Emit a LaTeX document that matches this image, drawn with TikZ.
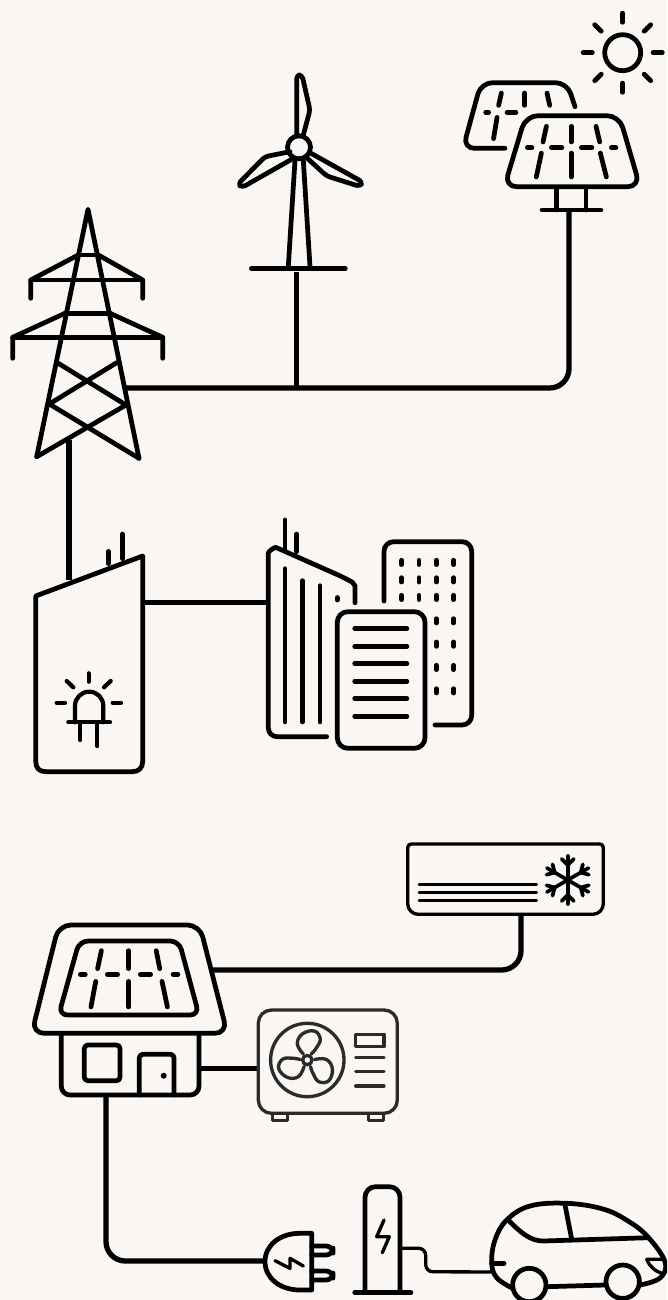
\documentclass[tikz,border=0pt]{standalone}
\definecolor{papercream}{HTML}{F9F6F3}
\definecolor{pumpgrey}{HTML}{2B2B2B}
\tikzset{
  icon/.style={line width=2.7pt,line cap=round,line join=round},
  bit/.style={icon,shorten >=0.8pt,shorten <=0.8pt},
  ledline/.style={line width=2.4pt,line cap=round,line join=round},
  thinicon/.style={line width=1.9pt,line cap=round,line join=round},
  wire/.style={line width=3pt,rounded corners=11pt},
  pumpicon/.style={thinicon,color=pumpgrey}
}
\begin{document}
\begin{tikzpicture}[x=0.02cm,y=-0.02cm]
\clip (0,0) rectangle (667,1300);
\fill[papercream] (0,0) rectangle (667,1300);

\coordinate (pylonright) at (126,388);
\coordinate (pylonfoot) at (69,440);
\coordinate (towerfoot) at (296.7,272);
\coordinate (towerjoin) at (296.7,388);
\coordinate (panelfoot) at (569,210);
\coordinate (plantroof) at (69,580);
\coordinate (plantright) at (143,602.7);
\coordinate (cityleft) at (266,602.7);
\coordinate (roofright) at (213,970);
\coordinate (acfoot) at (521,914);
\coordinate (houseright) at (199,1068.7);
\coordinate (pumpleft) at (258.3,1068.7);
\coordinate (housefoot) at (106,1095);
\coordinate (plugleft) at (265,1261);
\coordinate (chargeright) at (400,1248.3);
\coordinate (carleft) at (491,1272);

\draw[wire] (panelfoot) |- (pylonright);
\draw[wire] (towerfoot) -- (towerjoin);
\draw[wire] (pylonfoot) -- (plantroof);
\draw[wire] (plantright) -- (cityleft);
\draw[wire] (acfoot) |- (roofright);
\draw[wire] (houseright) -- (pumpleft);
\draw[wire] (housefoot) |- (plugleft);
\draw[line width=1.9pt,rounded corners=4pt] (chargeright) -| (425.7,1271.7) -- (carleft);

\draw[icon] (622.7,52.7) circle (18);
\foreach \a in {0,45,...,315}
  \draw[bit,shift={(622.7,52.7)},rotate=\a] (29,0) -- (41,0);

\draw[icon,rounded corners=6.5pt] (575,106.7) -- (567,82.7) -- (481,82.7) -- (463,148.3) -- (505,148.3);
\draw[bit] (501.7,91.7) -- (498.3,106.7);
\draw[bit] (524.7,91.7) -- (524.7,106.7);
\draw[bit] (546.7,91.7) -- (550,106.7);
\draw[bit] (484.3,112.3) -- (490,112.3);
\draw[bit] (505.7,112.3) -- (517.3,112.3);
\draw[bit] (497.3,116) -- (493.3,140);

\draw[icon,rounded corners=7pt] (525.7,115.7) -- (619.3,115.7) -- (640,186.7) -- (504.3,186.7) -- cycle;
\draw[bit] (546.7,125) -- (542.7,143.3);
\draw[bit] (571.3,125) -- (571.3,143.3);
\draw[bit] (595.7,125) -- (600,143.3);
\draw[bit] (526,147.7) -- (533.3,147.7);
\draw[bit] (550,147.7) -- (563.3,147.7);
\draw[bit] (580,147.7) -- (593.3,147.7);
\draw[bit] (610,147.7) -- (617.3,147.7);
\draw[bit] (541.7,151.7) -- (536,178.3);
\draw[bit] (571.3,151.7) -- (571.3,178.3);
\draw[bit] (600,151.7) -- (606.7,178.3);
\draw[icon] (556.7,188) -- (556.7,210);
\draw[icon] (586,188) -- (586,210);
\draw[bit] (540.7,210) -- (602.3,210);

\draw[icon] (36.7,456.7) -- (88,209.3) -- (139,458.3);
\draw[icon] (78.3,255) -- (98.3,255);
\draw[icon] (30.7,298.3) -- (30.7,280) -- (78.3,255);
\draw[icon] (142.7,298.3) -- (142.7,280) -- (98.3,255);
\draw[icon] (30.7,280) -- (142.7,280);
\draw[icon] (65,313.3) -- (110,313.3);
\draw[icon] (12.7,358.3) -- (12.7,337.3) -- (65,313.3);
\draw[icon] (162.7,358.3) -- (162.7,337.3) -- (110,313.3);
\draw[icon] (12.7,337.3) -- (162.7,337.3);
\draw[icon] (58.3,363.3) -- (126,405) -- (36.7,456.7);
\draw[icon] (116.7,362.7) -- (49.3,404) -- (139,458.3);

\draw[icon] (299,147.3) circle (11.5);
\draw[icon,rounded corners=2pt] (296.7,135) -- (296.7,75) -- (302,75) -- (310,110) -- (303.3,135);
\draw[icon,rounded corners=2pt] (290,151.7) -- (265,156.7) -- (238,184) -- (242,187.5) -- (291.7,159.3);
\draw[icon,rounded corners=2pt] (311,153.3) -- (362.5,182) -- (360,186.5) -- (326.7,176) -- (307.3,158.3);
\draw[icon] (295,160) -- (288.3,266.7);
\draw[icon] (303.3,160) -- (310,266.7);
\draw[bit] (250,268.7) -- (346.7,268.7);

\draw[icon] (35.7,596) -- (142.7,556) -- (142.7,761) .. controls (142.7,768) and (139,771.7) .. (132,771.7) -- (46,771.7) .. controls (39,771.7) and (35.7,768) .. (35.7,761) -- cycle;
\draw[bit] (108.3,550) -- (108.3,565);
\draw[bit] (122.3,532.7) -- (122.3,560);
\draw[ledline,rounded corners=8pt] (75,722.3) -- (75,691.7) -- (103.3,691.7) -- (103.3,722.3);
\draw[ledline] (68.3,722.3) -- (110,722.3);
\draw[ledline] (80.3,723) -- (80.3,740);
\draw[ledline] (97.3,723) -- (97.3,746);
\draw[ledline] (88.7,673.3) -- (88.7,681.7);
\draw[ledline] (66.7,681) -- (73.3,687.3);
\draw[ledline] (110.7,681) -- (104,687.3);
\draw[ledline] (56.7,702.7) -- (65,702.7);
\draw[ledline] (112.7,702.7) -- (121,702.7);

\draw[icon,rounded corners=5pt] (326.7,736.7) -- (268.3,736.7) -- (268.3,562) .. controls (268.3,551) and (275,547) .. (284,551) -- (345,578) .. controls (352,582) and (355,586) .. (355,594) -- (355,601.7);
\draw[icon] (285,520) -- (285,550);
\draw[bit] (296.7,532.7) -- (296.7,553);
\draw[bit] (285,567.3) -- (285,723.3);
\draw[bit] (302.3,579.3) -- (302.3,723.3);
\draw[bit] (320,584.3) -- (320,723.3);
\draw[icon] (337.3,597.5) -- (337.3,600);
\draw[icon,rounded corners=5.5pt] (384,601) -- (384,541.7) -- (471.7,541.7) -- (471.7,725) -- (435,725);
\foreach \px in {401.7,419,436.3,453.7}
  \foreach \py in {558.3,575.7,593.3}
    \draw[icon] (\px,\py+2) -- (\px,\py+6.3);
\foreach \px in {436.3,453.7}
  \foreach \py in {616.7,640,663.3,686.7}
    \draw[icon] (\px,\py+2) -- (\px,\py+6.3);
\draw[icon,rounded corners=6pt] (337.3,611.7) rectangle (425,748.3);
\foreach \py in {628.7,646.3,663.7,681.3,698.7,716.3}
  \draw[bit] (353.3,\py) -- (408.3,\py);

\draw[icon,rounded corners=7pt] (58.7,925) -- (199.7,925) -- (227.3,1033.3) -- (31.7,1033.3) -- cycle;
\draw[icon,rounded corners=5pt] (79.3,941) -- (179,941) -- (199,1015) -- (58.7,1015) -- cycle;
\draw[bit] (101.7,949.3) -- (97.3,970);
\draw[bit] (128.7,949.3) -- (128.7,970);
\draw[bit] (156,949.3) -- (160,970);
\draw[bit] (79,974.3) -- (86.7,974.3);
\draw[bit] (106,974.3) -- (119,974.3);
\draw[bit] (139,974.3) -- (152,974.3);
\draw[bit] (171.7,974.3) -- (179.3,974.3);
\draw[bit] (96,980) -- (90.7,1008.3);
\draw[bit] (128.7,980) -- (128.7,1008.3);
\draw[bit] (161.7,980) -- (167.7,1008.3);
\draw[icon,rounded corners=5pt] (61.3,1033.3) -- (61.3,1095) -- (199,1095) -- (199,1033.3);
\draw[icon,rounded corners=2pt] (84.3,1045) rectangle (120,1080.7);
\draw[icon,rounded corners=2pt] (139.3,1095) -- (139.3,1054.3) -- (174,1054.3) -- (174,1095);
\fill (163.7,1075.7) circle (3);

\draw[thinicon] (407.7,844) [rounded corners=2pt] -- (603.3,844) [rounded corners=6pt] -- (603.3,914.3) -- (407.7,914.3) [rounded corners=2pt] -- cycle;
\foreach \py in {884,892.3,900.3}
  \draw[thinicon,line width=1.7pt] (419,\py) -- (536.7,\py);
\foreach \a in {0,60,...,300} {
  \draw[thinicon,line width=2.1pt,shift={(567.7,880)},rotate=\a] (0,0) -- (0,-24);
  \draw[thinicon,line width=2.1pt,shift={(567.7,880)},rotate=\a] (-6,-21) -- (0,-15) -- (6,-21);
}

\draw[pumpicon,rounded corners=7.5pt] (258.3,1010) rectangle (397.3,1113.3);
\draw[pumpicon] (272.3,1113.3) rectangle (287.7,1120.7);
\draw[pumpicon] (368.3,1113.3) rectangle (383.3,1120.7);
\draw[pumpicon] (307.3,1060) circle (36.7);
\draw[pumpicon] (307.3,1060) circle (4.7);
\foreach \a in {0,-120,-240}
  \draw[pumpicon,shift={(307.3,1060)},rotate=\a] plot[smooth,tension=0.7] coordinates {(-4,-6) (-10,-16) (-5,-26) (7,-29) (13,-21) (9,-12) (4,-6)};
\draw[pumpicon] (355.7,1034.3) rectangle (384,1046.7);
\foreach \py in {1057.7,1071.7,1086}
  \draw[pumpicon] (355.7,\py) -- (384,\py);

\draw[icon] (311.7,1233.3) -- (300,1233.3) .. controls (280,1233.3) and (265,1245) .. (265,1261.7) .. controls (265,1278) and (280,1290) .. (300,1290) -- (311.7,1290) -- cycle;
\draw[icon,rounded corners=4pt] (311.7,1246) -- (333,1246) -- (333,1255) -- (311.7,1255);
\draw[icon,rounded corners=4pt] (311.7,1271) -- (333,1271) -- (333,1280) -- (311.7,1280);
\draw[thinicon] (275,1260.7) -- (290,1268.3) -- (290,1258.3) -- (303.3,1266);

\draw[icon,rounded corners=6pt] (365,1292.7) -- (365,1186.7) -- (400,1186.7) -- (400,1292.7);
\draw[bit] (353.3,1292.7) -- (412.3,1292.7);
\draw[thinicon] (384,1220) -- (376.7,1236.7) -- (389.3,1236.7) -- (382.3,1252.7);

\draw[icon] plot[smooth,tension=0.65] coordinates {(513,1288.5) (497,1278) (491.7,1263) (495,1240) (506.7,1220) (530,1206) (566.7,1203.3) (603,1209) (628,1221) (648,1237) (665,1262) (660,1278) (640,1285)};
\draw[icon] (546.7,1286.7) -- (605,1285);
\draw[icon] (529.3,1285) circle (16.7);
\draw[icon] (622.7,1281.7) circle (16.7);
\draw[icon] (508.3,1220) .. controls (520,1232) and (530,1241) .. (543.3,1241) -- (648.3,1237.7);
\draw[icon] (565,1205) -- (571.7,1239.3);
\draw[icon] (491.7,1263.3) -- (504,1263.3);
\draw[thinicon] (663.3,1259.3) -- (646.7,1259.3) .. controls (650,1267) and (655,1271) .. (661.7,1273.3);
\end{tikzpicture}
\end{document}
